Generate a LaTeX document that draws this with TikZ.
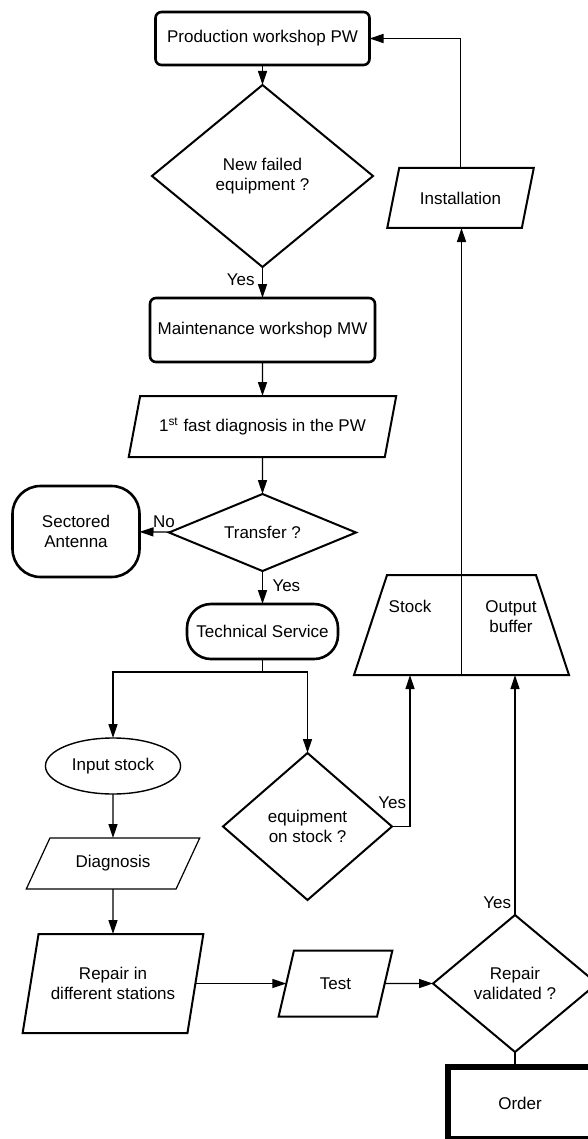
\documentclass[tikz,border=0pt]{standalone}
\usepackage{fontspec}
\setmainfont{Liberation Sans}
\usetikzlibrary{arrows.meta, positioning, shapes.geometric}

\begin{document}
\begin{tikzpicture}[
  x=0.5pt, y=-0.5pt,
  node distance=10pt,
  every node/.style={font=\fontsize{8.5}{10.3}\selectfont, outer sep=0pt},
  box/.style={draw, rectangle, rounded corners=3pt, line width=1.3pt, align=center},
  term/.style={draw, rectangle, line width=1.3pt, align=center},
  decision/.style={draw, diamond, line width=1pt, inner sep=1pt, align=center},
  io/.style={draw, trapezium, trapezium stretches=true, line width=1pt,
             inner sep=2pt, align=center},
  arrow/.style={-{Triangle[length=7pt, width=4.5pt]}, line width=0.65pt},
  link/.style={line width=0.65pt},
  lbl/.style={inner sep=2pt},
]
\useasboundingbox (0,0) rectangle (588,1139);
\clip (0,0) rectangle (588,1139);

% main column
\node[box, minimum width=107pt, minimum height=26.5pt] (pw) at (262.5,38.5) {Production workshop PW};
\node[decision, minimum width=110.5pt, minimum height=91pt, below=of pw] (nf) {New failed\\equipment ?};
\node[box, minimum width=112.5pt, minimum height=32pt, below=15.5pt of nf] (mw) {Maintenance workshop MW};
\node[io, trapezium left angle=68, trapezium right angle=112, minimum width=134pt,
      minimum height=30.5pt, below=17pt of mw] (fd) {1\textsuperscript{st} fast diagnosis in the PW};
\node[decision, aspect=2.4, minimum width=93.5pt, minimum height=38.5pt, below=18.5pt of fd] (tr) {Transfer ?};
\node[term, rounded corners=12pt, minimum width=75.5pt, minimum height=27.5pt, below=16.5pt of tr] (ts) {Technical Service};
\node[term, rounded corners=14pt, minimum width=63.5pt, minimum height=45.5pt] (sa) at (76,531.5) {Sectored\\Antenna};

% right side
\node[io, trapezium left angle=67, trapezium right angle=113, minimum width=73.5pt,
      minimum height=30pt] (inst) at (460.5,198) {Installation};
\node[draw, trapezium, trapezium stretches=true, trapezium left angle=77.5, trapezium right angle=77.5,
      line width=1pt, minimum width=107.5pt, minimum height=50pt] (buf) at (461.5,625) {};
\node (stk) at (410,606) {Stock};
\node[align=center] (outb) at (511,616.5) {Output\\buffer};

% repair branch
\node[draw, ellipse, line width=0.7pt, minimum width=63.5pt, minimum height=28pt] (inp) at (113,766) {Input stock};
\node[decision, minimum width=84.5pt, minimum height=73.5pt] (eqd) at (307.5,826.5) {equipment\\on stock ?};
\node[io, line width=0.6pt, trapezium left angle=57, trapezium right angle=123, minimum width=86.75pt,
      minimum height=25.5pt] (diag) at (113,863.5) {Diagnosis};
\node[io, trapezium left angle=71, trapezium right angle=109, minimum width=90.75pt,
      minimum height=49.5pt] (rep) at (113,983.5) {Repair in\\different stations};
\node[io, trapezium left angle=70, trapezium right angle=110, minimum width=57pt,
      minimum height=33pt] (test) at (335.5,983.5) {Test};
\node[decision, minimum width=82pt, minimum height=68.5pt] (val) at (515,983.5) {Repair\\validated ?};
\node[draw, line width=3pt, minimum width=72pt, minimum height=36pt] (order) at (520,1103) {Order};

\draw[arrow] (pw) -- (nf);
\draw[arrow] (nf) -- node[lbl, left=2pt, pos=0.4]{Yes} (mw);
\draw[arrow] (mw) -- (fd);
\draw[arrow] (fd) -- (tr);
\draw[arrow] (tr) -- node[lbl, above, pos=0.2]{No} (sa);
\draw[arrow] (tr) -- node[lbl, right=3pt, pos=0.45]{Yes} (ts);
\draw[link] (ts.south) -- ++(0,13) coordinate (fork);
\draw[arrow] (fork) -| (inp);
\draw[arrow] (fork) -| (eqd);
\draw[arrow] (inp) -- (diag);
\draw[arrow] (diag) -- (rep);
\draw[arrow] (rep) -- (test);
\draw[arrow] (test) -- (val);
\draw[arrow] (eqd.east) -| node[lbl, left, pos=0.58]{Yes} (stk |- buf.south);
\draw[arrow] (val.north) -- node[lbl, left, pos=0.05]{Yes} (val.north |- buf.south);
\draw[link] (val.south) -- (val.south |- order.north);
\draw[link] (buf.top side) -- (buf.bottom side);
\draw[arrow] (buf.north) -- (buf.north |- inst.south);
\draw[arrow] (inst.center |- inst.north) |- (pw);
\end{tikzpicture}
\end{document}
